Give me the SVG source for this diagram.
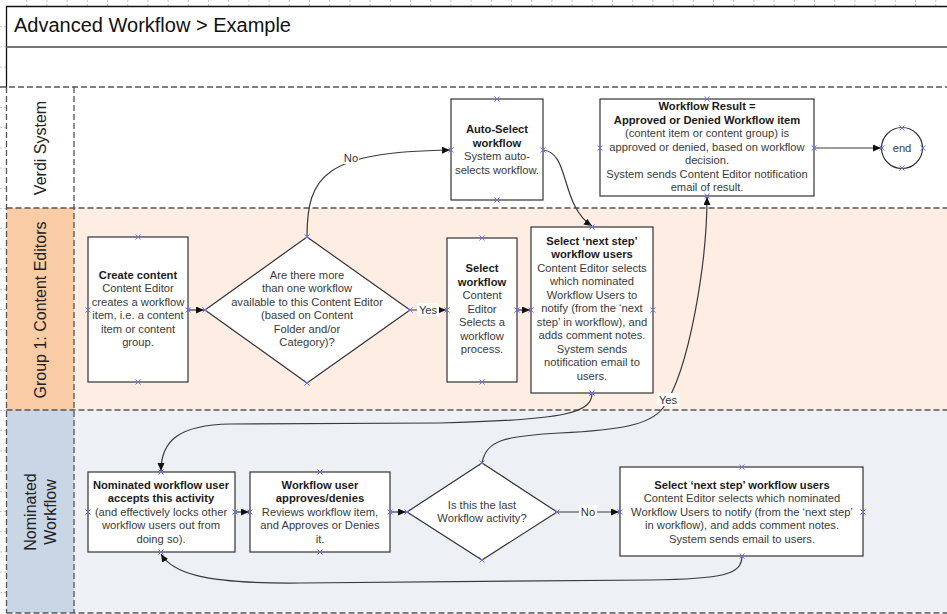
<svg xmlns="http://www.w3.org/2000/svg" width="947" height="614" viewBox="0 0 947 614">
<style>
.t{font-family:"Liberation Sans",Arial,sans-serif;font-size:11.2px;fill:#3a3a3a;text-anchor:middle}
.b{font-weight:bold;fill:#1a1a1a}
.box{fill:#fff;stroke:#333;stroke-width:1.2}
.c{fill:none;stroke:#3a3a3a;stroke-width:1.2}
.lbl{font-family:"Liberation Sans",Arial,sans-serif;font-size:11.2px;fill:#333;text-anchor:middle}
.lane{font-family:"Liberation Sans",Arial,sans-serif;font-size:16px;fill:#222;text-anchor:middle}
.dash{fill:none;stroke:#555;stroke-width:1.3;stroke-dasharray:6,3}
.grid{stroke:#c8c8c8;stroke-width:1;stroke-dasharray:2,2}
</style>
<defs>
<marker id="ah" markerWidth="9" markerHeight="8" refX="8" refY="3.5" orient="auto" markerUnits="userSpaceOnUse">
<path d="M0,0 L8,3.5 L0,7 z" fill="#111"/>
</marker>
<path id="x" d="M-2.5,-2.5 L2.5,2.5 M-2.5,2.5 L2.5,-2.5" stroke="#6a6aff" stroke-width="1"/>
</defs>
<rect width="947" height="614" fill="#fff"/>
<g id="grid">
<path class="grid" d="M26.7,0V6M46.9,0V6M67.1,0V6M87.3,0V6M107.5,0V6M127.7,0V6M147.9,0V6M168.1,0V6M188.3,0V6M208.5,0V6M228.7,0V6M248.9,0V6M269.1,0V6M289.3,0V6M309.5,0V6M329.7,0V6M349.9,0V6M370.1,0V6M390.3,0V6M410.5,0V6M430.7,0V6M450.9,0V6M471.1,0V6M491.3,0V6M511.5,0V6M531.7,0V6M551.9,0V6M572.1,0V6M592.3,0V6M612.5,0V6M632.7,0V6M652.9,0V6M673.1,0V6M693.3,0V6M713.5,0V6M733.7,0V6M753.9,0V6M774.1,0V6M794.3,0V6M814.5,0V6M834.7,0V6M854.9,0V6M875.1,0V6M895.3,0V6M915.5,0V6M935.7,0V6"/>
<path class="grid" d="M0,26.7H6M0,46.9H6M0,67.1H6M0,87.3H6M0,107.5H6M0,127.7H6M0,147.9H6M0,168.1H6M0,188.3H6M0,208.5H6M0,228.7H6M0,248.9H6M0,269.1H6M0,289.3H6M0,309.5H6M0,329.7H6M0,349.9H6M0,370.1H6M0,390.3H6M0,410.5H6M0,430.7H6M0,450.9H6M0,471.1H6M0,491.3H6M0,511.5H6M0,531.7H6M0,551.9H6M0,572.1H6M0,592.3H6"/>
</g>
<g id="lanes">
<rect x="6.5" y="208" width="941" height="202" fill="#fdede3"/>
<rect x="6.5" y="410" width="941" height="203" fill="#edf0f5"/>
<rect x="6.5" y="208" width="67.5" height="202" fill="#facca6"/>
<rect x="6.5" y="410" width="67.5" height="203" fill="#c9d6e6"/>
<path d="M6.5,87V6.5H947" fill="none" stroke="#111" stroke-width="1.3"/>
<path d="M6.5,47H947" stroke="#777" stroke-width="2"/>
<path class="dash" d="M0,87H947" stroke="#111"/>
<path class="dash" d="M6.5,208H947M6.5,410H947M6.5,613H947M6.5,87V613M74,87V613"/>
<text x="14" y="32" font-family="'Liberation Sans',Arial,sans-serif" font-size="20" fill="#111">Advanced Workflow &gt; Example</text>
<text class="lane" transform="translate(46,148) rotate(-90)">Verdi System</text>
<text class="lane" transform="translate(46,310) rotate(-90)">Group 1: Content Editors</text>
<text class="lane" transform="translate(36,512) rotate(-90)">Nominated</text>
<text class="lane" transform="translate(56,512) rotate(-90)">Workflow</text>
</g>
<g id="connectors">
<path class="c" d="M188,310H204" marker-end="url(#ah)"/>
<path class="c" d="M307,237C307,175 325,152 450,150" marker-end="url(#ah)"/>
<path class="c" d="M410,310H446" marker-end="url(#ah)"/>
<path class="c" d="M517,310H530" marker-end="url(#ah)"/>
<path class="c" d="M543,150C570,152 560,205 592,226" marker-end="url(#ah)"/>
<path class="c" d="M592,393C592,412 570,420 440,423L230,424C180,425 161,440 161,471" marker-end="url(#ah)"/>
<path class="c" d="M482,463C486,440 505,436 560,433C620,430 650,425 663,408C690,370 707,260 707,197" marker-end="url(#ah)"/>
<path class="c" d="M814,148H881" marker-end="url(#ah)"/>
<path class="c" d="M235,512H249" marker-end="url(#ah)"/>
<path class="c" d="M390,512H406" marker-end="url(#ah)"/>
<path class="c" d="M557,512H619" marker-end="url(#ah)"/>
<path class="c" d="M742,556C742,575 722,579 650,580L300,583C200,584 172,572 161,554" marker-end="url(#ah)"/>
<rect x="343" y="151" width="16" height="13" fill="#fff"/>
<text class="lbl" x="351" y="161.5">No</text>
<rect x="417" y="303" width="22" height="13" fill="#fff"/>
<text class="lbl" x="428" y="313.5">Yes</text>
<rect x="657" y="393" width="22" height="13" fill="#fff"/>
<text class="lbl" x="668" y="403.5">Yes</text>
<rect x="579" y="505" width="18" height="13" fill="#fff"/>
<text class="lbl" x="588" y="515.5">No</text>
</g>
<g id="auto-select">
<rect class="box" x="451" y="99" width="92" height="101"/>
<text class="t" x="497"><tspan class="b" x="497" y="133">Auto-Select</tspan><tspan class="b" x="497" y="146.5">workflow</tspan><tspan x="497" y="160">System auto-</tspan><tspan x="497" y="173.5">selects workflow.</tspan></text>
</g>
<g id="workflow-result">
<rect class="box" x="600" y="99" width="214" height="97"/>
<text class="t" x="707"><tspan class="b" x="707" y="110">Workflow Result =</tspan><tspan class="b" x="707" y="123.5">Approved or Denied Workflow item</tspan><tspan x="707" y="137">(content item or content group) is</tspan><tspan x="707" y="150.5">approved or denied, based on workflow</tspan><tspan x="707" y="164">decision.</tspan><tspan x="707" y="177.5">System sends Content Editor notification</tspan><tspan x="707" y="191">email of result.</tspan></text>
</g>
<g id="end">
<circle cx="902" cy="148" r="20.5" fill="#fff" stroke="#333" stroke-width="1.2"/>
<text class="t" x="902" y="151.5">end</text>
</g>
<g id="create-content">
<rect class="box" x="88" y="237" width="100" height="145"/>
<text class="t" x="138"><tspan class="b" x="138" y="278.5">Create content</tspan><tspan x="138" y="292">Content Editor</tspan><tspan x="138" y="305.5">creates a workflow</tspan><tspan x="138" y="319">item, i.e. a content</tspan><tspan x="138" y="332.5">item or content</tspan><tspan x="138" y="346">group.</tspan></text>
</g>
<g id="decision-more-workflows">
<path d="M307,237L410,310L307,383L205,310Z" fill="#fff" stroke="#333" stroke-width="1.2"/>
<text class="t" x="307"><tspan x="307" y="278.5">Are there more</tspan><tspan x="307" y="292">than one workflow</tspan><tspan x="307" y="305.5">available to this Content Editor</tspan><tspan x="307" y="319">(based on Content</tspan><tspan x="307" y="332.5">Folder and/or</tspan><tspan x="307" y="346">Category)?</tspan></text>
</g>
<g id="select-workflow">
<rect class="box" x="447" y="238" width="70" height="144"/>
<text class="t" x="482"><tspan class="b" x="482" y="272">Select</tspan><tspan class="b" x="482" y="285.5">workflow</tspan><tspan x="482" y="299">Content</tspan><tspan x="482" y="312.5">Editor</tspan><tspan x="482" y="326">Selects a</tspan><tspan x="482" y="339.5">workflow</tspan><tspan x="482" y="353">process.</tspan></text>
</g>
<g id="select-next-step-ce">
<rect class="box" x="531" y="227" width="122" height="166"/>
<text class="t" x="592"><tspan class="b" x="592" y="244.5">Select ‘next step’</tspan><tspan class="b" x="592" y="258">workflow users</tspan><tspan x="592" y="271.5">Content Editor selects</tspan><tspan x="592" y="285">which nominated</tspan><tspan x="592" y="298.5">Workflow Users to</tspan><tspan x="592" y="312">notify (from the ‘next</tspan><tspan x="592" y="325.5">step’ in workflow), and</tspan><tspan x="592" y="339">adds comment notes.</tspan><tspan x="592" y="352.5">System sends</tspan><tspan x="592" y="366">notification email to</tspan><tspan x="592" y="379.5">users.</tspan></text>
</g>
<g id="nominated-user-accepts">
<rect class="box" x="88" y="472" width="147" height="80"/>
<text class="t" x="161"><tspan class="b" x="161" y="488.5">Nominated workflow user</tspan><tspan class="b" x="161" y="502">accepts this activity</tspan><tspan x="161" y="515.5">(and effectively locks other</tspan><tspan x="161" y="529">workflow users out from</tspan><tspan x="161" y="542.5">doing so).</tspan></text>
</g>
<g id="user-approves-denies">
<rect class="box" x="250" y="472" width="140" height="80"/>
<text class="t" x="320"><tspan class="b" x="320" y="488.5">Workflow user</tspan><tspan class="b" x="320" y="502">approves/denies</tspan><tspan x="320" y="515.5">Reviews workflow item,</tspan><tspan x="320" y="529">and Approves or Denies</tspan><tspan x="320" y="542.5">it.</tspan></text>
</g>
<g id="decision-last-activity">
<path d="M482,463L557,512L482,560L407,512Z" fill="#fff" stroke="#333" stroke-width="1.2"/>
<text class="t" x="482"><tspan x="482" y="508.5">Is this the last</tspan><tspan x="482" y="522">Workflow activity?</tspan></text>
</g>
<g id="select-next-step-nw">
<rect class="box" x="620" y="467" width="243" height="89"/>
<text class="t" x="742"><tspan class="b" x="742" y="488.5">Select ‘next step’ workflow users</tspan><tspan x="742" y="502">Content Editor selects which nominated</tspan><tspan x="742" y="515.5">Workflow Users to notify (from the ‘next step’</tspan><tspan x="742" y="529">in workflow), and adds comment notes.</tspan><tspan x="742" y="542.5">System sends email to users.</tspan></text>
</g>
<g id="connection-points">
<use href="#x" x="497" y="99"/><use href="#x" x="497" y="200"/><use href="#x" x="451" y="150"/><use href="#x" x="543" y="150"/>
<use href="#x" x="707" y="99"/><use href="#x" x="707" y="196"/><use href="#x" x="600" y="148"/><use href="#x" x="814" y="148"/>
<use href="#x" x="902" y="128"/><use href="#x" x="902" y="168"/><use href="#x" x="882" y="148"/><use href="#x" x="923" y="148"/>
<use href="#x" x="138" y="237"/><use href="#x" x="138" y="382"/><use href="#x" x="88" y="310"/><use href="#x" x="188" y="310"/>
<use href="#x" x="307" y="237"/><use href="#x" x="307" y="383"/><use href="#x" x="205" y="310"/><use href="#x" x="410" y="310"/>
<use href="#x" x="482" y="238"/><use href="#x" x="482" y="382"/><use href="#x" x="447" y="310"/><use href="#x" x="517" y="310"/>
<use href="#x" x="592" y="227"/><use href="#x" x="592" y="393"/><use href="#x" x="531" y="310"/><use href="#x" x="653" y="310"/>
<use href="#x" x="161" y="472"/><use href="#x" x="161" y="552"/><use href="#x" x="88" y="512"/><use href="#x" x="235" y="512"/>
<use href="#x" x="320" y="472"/><use href="#x" x="320" y="552"/><use href="#x" x="250" y="512"/><use href="#x" x="390" y="512"/>
<use href="#x" x="482" y="463"/><use href="#x" x="482" y="560"/><use href="#x" x="407" y="512"/><use href="#x" x="557" y="512"/>
<use href="#x" x="742" y="467"/><use href="#x" x="742" y="556"/><use href="#x" x="620" y="512"/><use href="#x" x="863" y="512"/>
</g>
</svg>
